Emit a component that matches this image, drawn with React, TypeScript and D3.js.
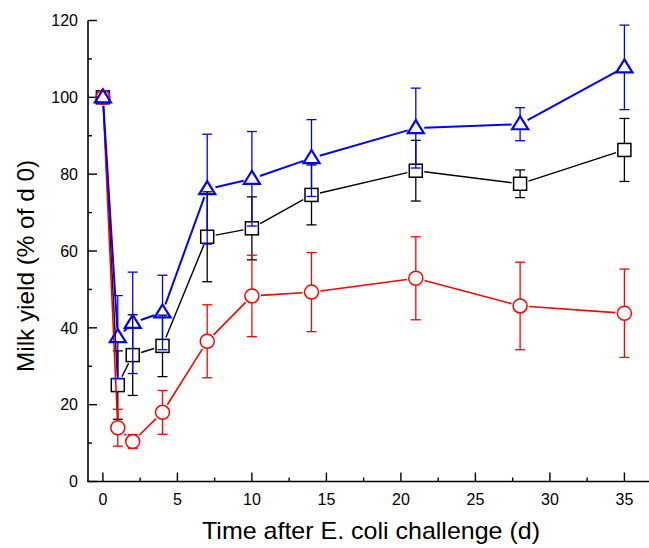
import React from "react";
import * as d3 from "d3";

const days = [0, 1, 2, 4, 7, 10, 14, 21, 28, 35];
const blackMean = [100, 25.1, 32.9, 35.3, 63.7, 65.9, 74.6, 80.9, 77.5, 86.3];
const blackErr = [0, 8.9, 10.5, 8, 11.7, 8.2, 7.8, 7.9, 3.6, 8.2];
const redMean = [100, 14, 10.4, 18, 36.5, 48.3, 49.3, 52.9, 45.7, 43.8];
const redErr = [0, 4.8, 1.8, 5.7, 9.5, 10.6, 10.3, 10.8, 11.4, 11.5];
const blueMean = [100, 37.6, 41.3, 44, 76.1, 78.8, 84.2, 92, 93, 107.8];
const blueErr = [0, 10.8, 13.2, 9.7, 14.3, 12.3, 10, 10.4, 4.3, 11];

const yTicks = [0, 20, 40, 60, 80, 100, 120];
const yMinor = [10, 30, 50, 70, 90, 110];
const xTicks = [0, 5, 10, 15, 20, 25, 30, 35];
const xMinor = [2.5, 7.5, 12.5, 17.5, 22.5, 27.5, 32.5];

const xTitle = "Time after E. coli challenge (d)";
const yTitle = "Milk yield (% of d 0)";

type Shape = "square" | "circle" | "triangle";
const series: { mean: number[]; err: number[]; color: string; shape: Shape; lw: number; mw: number }[] = [
  { mean: blackMean, err: blackErr, color: "#000000", shape: "square", lw: 1.4, mw: 1.5 },
  { mean: redMean, err: redErr, color: "#ff0000", shape: "circle", lw: 1.6, mw: 1.5 },
  { mean: blueMean, err: blueErr, color: "#0000ff", shape: "triangle", lw: 2, mw: 2.2 },
];

const x = d3.scaleLinear().domain([-1, 37]).range([88, 88 + 38 * 14.9]);
const y = d3.scaleLinear().domain([0, 120]).range([481.5, 20.5]);

const FONT = "'Liberation Sans', Arial, sans-serif";

function topExt(s: Shape) {
  return s === "square" ? 6.5 : s === "circle" ? 7 : 8;
}
function botExt(s: Shape) {
  return s === "square" ? 6.5 : s === "circle" ? 7 : 5;
}
function trim(s: Shape, ux: number, uy: number) {
  if (s === "square") return 6.5 / Math.max(Math.abs(ux), Math.abs(uy)) + 2;
  if (s === "circle") return 9;
  return 8.5;
}

function Marker({ cx, cy, s, color, w }: { cx: number; cy: number; s: Shape; color: string; w: number }) {
  if (s === "square")
    return <rect x={cx - 6.5} y={cy - 6.5} width={13} height={13} fill="none" stroke={color} strokeWidth={w} />;
  if (s === "circle") return <circle cx={cx} cy={cy} r={7} fill="none" stroke={color} strokeWidth={w} />;
  return (
    <path
      d={`M${cx},${cy - 8}L${cx + 8},${cy + 5}L${cx - 8},${cy + 5}Z`}
      fill="none"
      stroke={color}
      strokeWidth={w}
      strokeLinejoin="miter"
    />
  );
}

export default function App() {
  return (
    <svg
      width={649}
      height={548}
      style={{ position: "absolute", left: 0, top: 0, background: "#fff" }}
      fontFamily={FONT}
    >
      {/* axes */}
      <line x1={88} x2={88} y1={y(120)} y2={y(0)} stroke="#000" strokeWidth={1.6} />
      <line x1={87.2} x2={649} y1={y(0)} y2={y(0)} stroke="#000" strokeWidth={1.6} />
      {yTicks.map((t) => (
        <g key={"yt" + t}>
          <line x1={88} x2={97} y1={y(t)} y2={y(t)} stroke="#000" strokeWidth={1.4} />
          <text x={78} y={y(t)} dy="0.36em" textAnchor="end" fontSize={16}>
            {t}
          </text>
        </g>
      ))}
      {yMinor.map((t) => (
        <line key={"ym" + t} x1={88} x2={92} y1={y(t)} y2={y(t)} stroke="#000" strokeWidth={1.4} />
      ))}
      {xTicks.map((t) => (
        <g key={"xt" + t}>
          <line x1={x(t)} x2={x(t)} y1={y(0)} y2={y(0) - 9} stroke="#000" strokeWidth={1.4} />
          <text x={x(t)} y={505} textAnchor="middle" fontSize={16}>
            {t}
          </text>
        </g>
      ))}
      {xMinor.map((t) => (
        <line key={"xm" + t} x1={x(t)} x2={x(t)} y1={y(0)} y2={y(0) - 4} stroke="#000" strokeWidth={1.4} />
      ))}
      <text
        x={371}
        y={539}
        textAnchor="middle"
        fontSize={24}
        textLength={338}
        lengthAdjust="spacingAndGlyphs"
      >
        {xTitle}
      </text>
      <text
        transform="translate(34,266) rotate(-90)"
        textAnchor="middle"
        fontSize={24}
        textLength={212}
        lengthAdjust="spacingAndGlyphs"
      >
        {yTitle}
      </text>

      {/* series */}
      {series.map((s, si) => {
        const pts = days.map((d, i) => [x(d), y(s.mean[i])]);
        const segs = [] as JSX.Element[];
        for (let i = 0; i < pts.length - 1; i++) {
          const [x0, y0] = pts[i];
          const [x1, y1] = pts[i + 1];
          const L = Math.hypot(x1 - x0, y1 - y0);
          const ux = (x1 - x0) / L;
          const uy = (y1 - y0) / L;
          const t = trim(s.shape, ux, uy);
          if (L <= 2 * t) continue;
          segs.push(
            <line
              key={"l" + i}
              x1={x0 + ux * t}
              y1={y0 + uy * t}
              x2={x1 - ux * t}
              y2={y1 - uy * t}
              stroke={s.color}
              strokeWidth={s.lw}
            />
          );
        }
        return (
          <g key={si}>
            {segs}
            {days.map((d, i) => {
              if (!s.err[i]) return null;
              const cx = x(d);
              const cy = y(s.mean[i]);
              const yu = y(s.mean[i] + s.err[i]);
              const yl = y(s.mean[i] - s.err[i]);
              const te = topExt(s.shape);
              const be = botExt(s.shape);
              return (
                <g key={"e" + i} stroke={s.color} strokeWidth={1.3}>
                  {cy - te > yu && <line x1={cx} x2={cx} y1={cy - te} y2={yu} />}
                  {cy + be < yl && <line x1={cx} x2={cx} y1={cy + be} y2={yl} />}
                  <line x1={cx - 5} x2={cx + 5} y1={yu} y2={yu} />
                  <line x1={cx - 5} x2={cx + 5} y1={yl} y2={yl} />
                </g>
              );
            })}
            {days.map((d, i) => (
              <Marker key={"m" + i} cx={x(d)} cy={y(s.mean[i])} s={s.shape} color={s.color} w={s.mw} />
            ))}
          </g>
        );
      })}
    </svg>
  );
}
